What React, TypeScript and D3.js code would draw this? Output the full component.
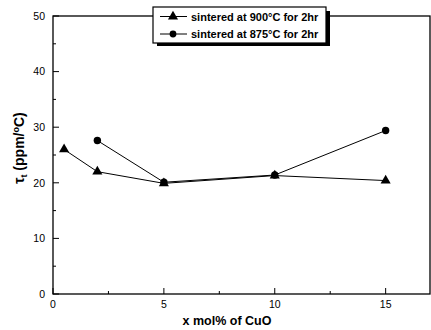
import * as d3 from "d3";
import React, { useEffect, useRef } from "react";

// x values (mol% CuO) and temperature coefficient values
const xTri = [0.5, 2, 5, 10, 15];
const yTri = [26.0, 22.0, 19.9, 21.3, 20.4];
const xCirc = [2, 5, 10, 15];
const yCirc = [27.6, 20.1, 21.4, 29.4];
const seriesNames = ["sintered at 900°C for 2hr", "sintered at 875°C for 2hr"];
const xTicks = [0, 5, 10, 15];
const yTicks = [0, 10, 20, 30, 40, 50];

export default function App() {
  const ref = useRef<SVGSVGElement>(null);

  useEffect(() => {
    const width = 431;
    const height = 330;
    const margin = { top: 16, right: 1, bottom: 36, left: 53 };
    const svg = d3.select(ref.current);
    svg.selectAll("*").remove();
    svg.attr("width", width).attr("height", height);

    const x = d3.scaleLinear().domain([0, 17]).range([margin.left, width - margin.right]);
    const y = d3.scaleLinear().domain([0, 50]).range([height - margin.bottom, margin.top]);
    const font = "Liberation Sans, Arial, sans-serif";

    const g = svg.append("g");

    // frame
    g.append("rect")
      .attr("x", x(0))
      .attr("y", y(50))
      .attr("width", x(17) - x(0))
      .attr("height", y(0) - y(50))
      .attr("fill", "none")
      .attr("stroke", "#000")
      .attr("stroke-width", 1.3);

    // x ticks (inward)
    d3.range(0, 17.01, 2.5).forEach((v) => {
      const major = v % 5 === 0;
      g.append("line")
        .attr("x1", x(v)).attr("x2", x(v))
        .attr("y1", y(0)).attr("y2", y(0) - (major ? 6 : 3))
        .attr("stroke", "#000");
    });
    xTicks.forEach((v) => {
      g.append("text")
        .attr("x", x(v)).attr("y", y(0) + 14)
        .attr("text-anchor", "middle")
        .attr("font-family", font).attr("font-size", 10.5)
        .text(v);
    });

    // y ticks (inward)
    d3.range(0, 50.01, 5).forEach((v) => {
      const major = v % 10 === 0;
      g.append("line")
        .attr("x1", x(0)).attr("x2", x(0) + (major ? 6 : 3))
        .attr("y1", y(v)).attr("y2", y(v))
        .attr("stroke", "#000");
    });
    yTicks.forEach((v) => {
      g.append("text")
        .attr("x", x(0) - 8).attr("y", y(v) + 3.8)
        .attr("text-anchor", "end")
        .attr("font-family", font).attr("font-size", 10.5)
        .text(v);
    });

    // axis titles
    g.append("text")
      .attr("x", 227).attr("y", 325)
      .attr("text-anchor", "middle")
      .attr("font-family", font).attr("font-size", 12.5).attr("font-weight", "bold")
      .text("x mol% of CuO");

    const yl = g.append("text")
      .attr("transform", "translate(24,148) rotate(-90)")
      .attr("text-anchor", "middle")
      .attr("font-family", font).attr("font-size", 14).attr("font-weight", "bold");
    yl.append("tspan").text("τ");
    yl.append("tspan").attr("font-size", 9).attr("dy", 3).text("t");
    yl.append("tspan").attr("dy", -3).text(" (ppm/");
    yl.append("tspan").attr("font-size", 9).attr("dy", -5).text("o");
    yl.append("tspan").attr("dy", 5).text("C)");

    const line = d3.line<[number, number]>().x((d) => x(d[0])).y((d) => y(d[1]));
    const tri = d3.symbol().type(d3.symbolTriangle).size(44);

    // triangle series
    const triData = xTri.map((v, i) => [v, yTri[i]] as [number, number]);
    g.append("path").attr("d", line(triData)).attr("fill", "none").attr("stroke", "#000").attr("stroke-width", 1);
    triData.forEach((d) => {
      g.append("path").attr("d", tri).attr("transform", `translate(${x(d[0])},${y(d[1])})`).attr("fill", "#000");
    });

    // circle series
    const circData = xCirc.map((v, i) => [v, yCirc[i]] as [number, number]);
    g.append("path").attr("d", line(circData)).attr("fill", "none").attr("stroke", "#000").attr("stroke-width", 1);
    circData.forEach((d) => {
      g.append("circle").attr("cx", x(d[0])).attr("cy", y(d[1])).attr("r", 3.7).attr("fill", "#000");
    });

    // legend with drop shadow
    const lg = g.append("g");
    lg.append("rect")
      .attr("x", 157).attr("y", 11).attr("width", 173).attr("height", 35)
      .attr("fill", "#000");
    lg.append("rect")
      .attr("x", 153).attr("y", 7).attr("width", 173).attr("height", 36)
      .attr("fill", "#fff").attr("stroke", "#000").attr("stroke-width", 1.2);
    seriesNames.forEach((name, i) => {
      const cy = 16.5 + i * 17.5;
      lg.append("line").attr("x1", 160).attr("x2", 187).attr("y1", cy).attr("y2", cy).attr("stroke", "#000");
      if (i === 0) {
        lg.append("path").attr("d", tri).attr("transform", `translate(173,${cy})`).attr("fill", "#000");
      } else {
        lg.append("circle").attr("cx", 173).attr("cy", cy).attr("r", 3.4).attr("fill", "#000");
      }
      lg.append("text")
        .attr("x", 191).attr("y", cy + 4)
        .attr("font-family", font).attr("font-size", 11).attr("font-weight", "bold")
        .text(name);
    });
  }, []);

  return (
    <svg ref={ref} style={{ position: "absolute", left: 0, top: 0, background: "#fff" }}></svg>
  );
}
